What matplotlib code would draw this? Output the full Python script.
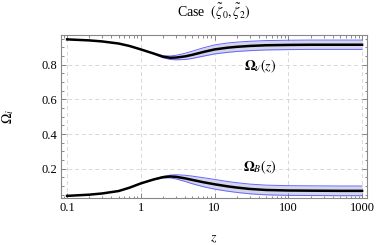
import numpy as np
import matplotlib
matplotlib.use('Agg')
import matplotlib.pyplot as plt
from matplotlib.ticker import LogLocator, MultipleLocator, FixedLocator

plt.rcParams['font.family'] = ['Liberation Serif', 'DejaVu Serif']
plt.rcParams['mathtext.fontset'] = 'stix'

# redshift samples
z = [0.1, 0.2, 0.3, 0.5, 0.7, 1, 1.5, 2, 2.5, 3, 4, 5, 7,
     10, 15, 20, 30, 50, 100, 200, 500, 1000]

# Omega_nu(z): central curve and half-width of the band
omega_nu = [0.946, 0.940, 0.934, 0.922, 0.908, 0.888, 0.864, 0.846, 0.840,
            0.841, 0.848, 0.857, 0.873, 0.888, 0.898, 0.903, 0.908, 0.912,
            0.914, 0.915, 0.915, 0.915]
nu_err = [0, 0, 0, 0, 0, 0, 0.002, 0.006, 0.010, 0.013, 0.018, 0.021, 0.024,
          0.026, 0.027, 0.027, 0.027, 0.027, 0.027, 0.027, 0.027, 0.027]

# Omega_B(z): central curve and half-width of the band
omega_b = [0.043, 0.050, 0.057, 0.071, 0.090, 0.115, 0.138, 0.151, 0.155,
           0.153, 0.144, 0.135, 0.122, 0.110, 0.098, 0.091, 0.083, 0.077,
           0.074, 0.073, 0.072, 0.072]
b_err = [0, 0, 0, 0, 0, 0, 0.002, 0.004, 0.008, 0.012, 0.018, 0.022, 0.026,
         0.028, 0.028, 0.028, 0.028, 0.028, 0.028, 0.028, 0.028, 0.028]

band_face = '#d4d4ec'
band_edge = '#6666ff'

fig = plt.figure(figsize=(3.82, 2.45), dpi=100)
ax = fig.add_axes([0.160, 0.192, 0.801, 0.665])

for center, err in [(omega_nu, nu_err), (omega_b, b_err)]:
    c = np.array(center)
    e = np.array(err)
    ax.fill_between(z, c - e, c + e, color=band_face, lw=0)
    ax.plot(z, c + e, color=band_edge, lw=0.7)
    ax.plot(z, c - e, color=band_edge, lw=0.7)
    ax.plot(z, c, color='black', lw=1.8)

ax.set_xscale('log')
ax.set_xlim(0.083, 1170)
ax.set_ylim(0.031, 0.971)

ax.xaxis.set_major_locator(FixedLocator([0.1, 1, 10, 100, 1000]))
ax.set_xticklabels(['0.1', '1', '10', '100', '1000'])
ax.xaxis.set_minor_locator(LogLocator(base=10, subs=np.arange(2, 10)))
ax.xaxis.set_minor_formatter(plt.NullFormatter())
ax.yaxis.set_major_locator(FixedLocator([0.2, 0.4, 0.6, 0.8]))
ax.set_yticklabels(['0.2', '0.4', '0.6', '0.8'])
ax.yaxis.set_minor_locator(MultipleLocator(0.05))

ax.tick_params(which='both', direction='in', top=True, right=True,
               color='#777777', labelsize=9, width=0.6)
ax.tick_params(which='major', length=3.5, pad=3)
ax.tick_params(which='minor', length=1.8)
for s in ax.spines.values():
    s.set_color('#888888')
    s.set_linewidth(0.8)

ax.grid(True, which='major', ls=(0, (4, 3)), color='#d8d8d8', lw=0.7)

ax.text(41, 0.79, r'$\mathbf{\Omega}_\nu(z)$', fontsize=10, ha='center', va='center')
ax.text(41, 0.205, r'$\mathbf{\Omega}_B(z)$', fontsize=10, ha='center', va='center')

ax.set_title(r'Case  $(\tilde{\zeta}_0,\tilde{\zeta}_2)$', fontsize=10, pad=13)
ax.set_xlabel(r'$z$', fontsize=10, labelpad=13)
ax.set_ylabel(r'$\Omega_i$', fontsize=10, labelpad=18)

fig.savefig('out.png', dpi=100)
